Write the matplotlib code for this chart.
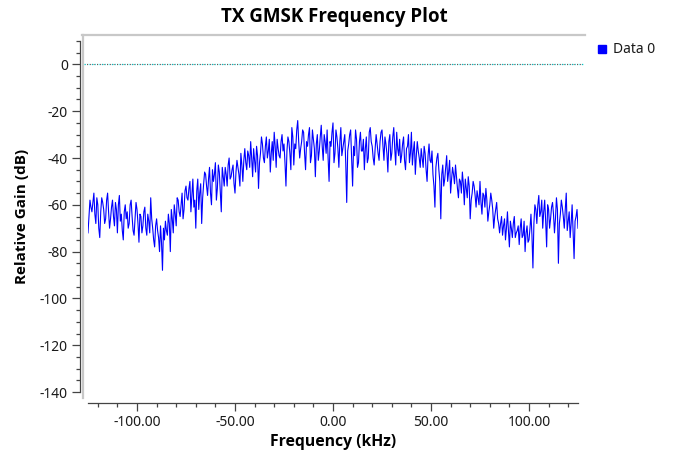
import numpy as np
import matplotlib
matplotlib.use("Agg")
import matplotlib.pyplot as plt
from matplotlib.lines import Line2D
from matplotlib.patches import Rectangle

plt.rcParams['font.family'] = ['Noto Sans', 'DejaVu Sans']

# spectrum, every 0.5 kHz from -125 to 125 kHz
# values on whole kHz
gain_db = [
    -72, -58, -63, -55, -68, -60, -74, -57, -62, -66,
    -55, -70, -61, -65, -59, -72, -56, -64, -75, -60,
    -63, -68, -58, -71, -66, -62, -76, -65, -69, -61,
    -73, -67, -57, -70, -78, -66, -74, -69, -88, -75,
    -71, -64, -80, -66, -60, -69, -58, -65, -55, -62,
    -52, -58, -50, -56, -61, -70, -49, -55, -68, -51,
    -47, -56, -44, -60, -50, -42, -53, -46, -63, -48,
    -44, -52, -40, -48, -43, -55, -41, -47, -38, -50,
    -36, -45, -39, -33, -48, -41, -35, -53, -38, -34,
    -42, -31, -37, -46, -33, -29, -44, -36, -40, -30,
    -34, -52, -31, -38, -27, -43, -36, -24, -40, -33,
    -29, -45, -35, -27, -39, -32, -48, -30, -37, -26,
    -41, -33, -28, -50, -35, -25, -38, -31, -44, -27,
    -36, -30, -59, -34, -28, -52, -39, -32, -42, -29,
    -37, -45, -31, -40, -27, -35, -43, -30, -38, -33,
    -28, -41, -34, -46, -30, -38, -27, -43, -36, -32,
    -39, -31, -45, -35, -42, -29, -37, -47, -33, -40,
    -36, -44, -38, -50, -34, -42, -47, -61, -40, -45,
    -66, -43, -49, -39, -46, -55, -44, -51, -48, -57,
    -50, -46, -60, -53, -48, -66, -55, -52, -61, -57,
    -50, -64, -56, -53, -67, -60, -58, -70, -62, -66,
    -72, -65, -69, -75, -63, -78, -70, -68, -74, -71,
    -77, -66, -73, -80, -69, -75, -64, -87, -60, -68,
    -56, -63, -70, -58, -78, -62, -66, -59, -72, -57,
    -85, -64, -61, -70, -55, -67, -74, -60, -83, -65,
    -70,
]
# values on the half kHz in between
gain_db_half = [
    -65, -61, -59, -64, -57, -70, -63, -59, -68, -58,
    -63, -66, -58, -69, -62, -60, -67, -71, -63, -66,
    -70, -60, -65, -73, -59, -68, -64, -72, -63, -70,
    -64, -72, -66, -75, -69, -71, -80, -76, -70, -67,
    -73, -68, -62, -72, -64, -57, -63, -60, -66, -54,
    -57, -53, -63, -49, -58, -54, -62, -51, -57, -46,
    -52, -49, -55, -45, -47, -58, -43, -55, -44, -52,
    -47, -43, -49, -45, -51, -46, -44, -52, -43, -41,
    -42, -37, -44, -40, -36, -46, -39, -42, -31, -40,
    -35, -40, -32, -38, -41, -35, -32, -39, -33, -37,
    -42, -37, -33, -45, -31, -34, -28, -33, -36, -28,
    -38, -33, -30, -42, -28, -36, -34, -41, -31, -35,
    -30, -38, -40, -33, -29, -42, -28, -36, -33, -39,
    -33, -42, -37, -30, -40, -35, -28, -44, -33, -37,
    -32, -36, -42, -29, -33, -40, -36, -34, -41, -29,
    -35, -31, -38, -33, -41, -31, -36, -29, -39, -42,
    -34, -41, -36, -30, -38, -43, -33, -39, -37, -44,
    -40, -35, -45, -39, -41, -37, -52, -44, -38, -50,
    -47, -52, -44, -50, -41, -49, -47, -43, -53, -49,
    -55, -51, -49, -57, -52, -58, -50, -56, -54, -60,
    -59, -55, -61, -58, -63, -55, -62, -65, -59, -68,
    -68, -73, -66, -70, -71, -67, -74, -65, -72, -69,
    -70, -74, -67, -72, -76, -70, -73, -68, -62, -60,
    -65, -58, -63, -67, -60, -70, -61, -64, -66, -62,
    -68, -58, -65, -62, -71, -63, -68, -72, -67, -62,
]

x_ticks = [-100, -50, 0, 50, 100]
x_tick_labels = ["-100.00", "-50.00", "0.00", "50.00", "100.00"]
y_ticks = [0, -20, -40, -60, -80, -100, -120, -140]
y_tick_labels = ["0", "-20", "-40", "-60", "-80", "-100", "-120", "-140"]

freq_khz = np.linspace(-125, 125, len(gain_db) + len(gain_db_half))
gain = np.empty(len(freq_khz))
gain[0::2] = gain_db
gain[1::2] = gain_db_half

W, H = 673, 454
fig = plt.figure(figsize=(W / 100, H / 100), dpi=100)

# axes placed in pixel terms of the original Qwt layout
ax = fig.add_axes([88 / W, 1 - 392 / H, 490 / W, 351 / H])
ax.set_xlim(-125, 125)
ax.set_ylim(-140, 10)
ax.patch.set_visible(False)

ax.plot(freq_khz, gain, color='#0000ff', lw=0.8, label='Data 0')

# dotted reference line at 0 dB, spans the whole canvas
x0 = (84 - 88) / 490
x1 = (583 - 88) / 490
ax.axhline(0, xmin=x0, xmax=x1, color='#00c8c8', lw=0.9,
           linestyle=(0, (1, 1)), clip_on=False)
ax.axhline(0, xmin=x0, xmax=x1, color='#a02020', lw=0.6,
           linestyle=(1, (1, 3)), clip_on=False)

# spines
for s in ['top', 'right']:
    ax.spines[s].set_visible(False)
ax.spines['left'].set_position(('outward', 8 * 0.72))
ax.spines['bottom'].set_position(('outward', 11 * 0.72))
for s in ['left', 'bottom']:
    ax.spines[s].set_color('#444444')
    ax.spines[s].set_linewidth(0.9)

ax.set_xticks(x_ticks)
ax.set_xticklabels(x_tick_labels)
ax.set_xticks(np.arange(-120, 121, 10), minor=True)
ax.set_yticks(y_ticks)
ax.set_yticklabels(y_tick_labels)
ax.set_yticks(np.arange(-135, 11, 5), minor=True)
ax.tick_params(which='major', direction='out', length=5.8, width=0.9,
               color='#444444', labelsize=10, labelcolor='#1a1a1a', pad=3)
ax.tick_params(which='minor', direction='out', length=3, width=0.9,
               color='#444444')

# canvas frame (only top and left edges show)
fig.add_artist(Line2D([82 / W, 585 / W], [1 - 35 / H, 1 - 35 / H],
                      color='#c8c8c8', lw=1.6))
fig.add_artist(Line2D([83 / W, 83 / W], [1 - 35 / H, 1 - 398 / H],
                      color='#c8c8c8', lw=1.6))

bold = ['Open Sans', 'DejaVu Sans']
fig.text(334 / W, 1 - 17 / H, 'TX GMSK Frequency Plot', ha='center',
         va='center', fontsize=13.5, fontweight='bold', family=bold)
fig.text(333 / W, 1 - 442 / H, 'Frequency (kHz)', ha='center',
         va='center', fontsize=11.3, fontweight='bold', family=bold)
fig.text(22 / W, 1 - 216 / H, 'Relative Gain (dB)', ha='center',
         va='center', rotation=90, fontsize=11, fontweight='bold',
         family=bold)

# legend
fig.add_artist(Rectangle((598 / W, 1 - 53 / H), 8 / W, 8 / H,
                         color='#0000ff', transform=fig.transFigure))
fig.text(613 / W, 1 - 49.5 / H, 'Data 0', ha='left', va='center',
         fontsize=10, color='#1a1a1a')

fig.savefig('out.png', dpi=100)
